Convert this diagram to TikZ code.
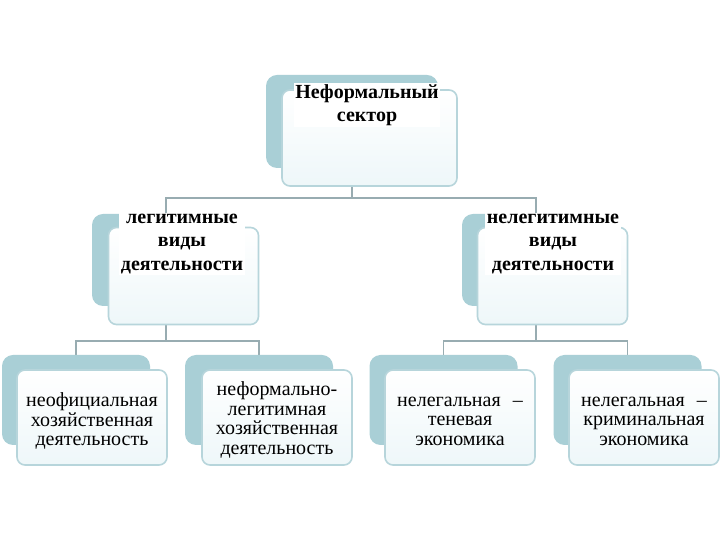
\documentclass[tikz,border=0pt]{standalone}
\usepackage{fontspec}
\setmainfont{Liberation Serif}
\usetikzlibrary{backgrounds}
\definecolor{backc}{RGB}{169,207,214}
\definecolor{framec}{RGB}{183,213,219}
\definecolor{innerc}{RGB}{238,247,249}
\definecolor{connc}{RGB}{152,172,177}
\begin{document}
\begin{tikzpicture}[x=1pt,y=1pt,
 backbox/.style={fill=backc, rounded corners=11pt, minimum width=148pt, minimum height=90pt, inner sep=0pt},
 frontbox/.style={draw=framec, line width=1.6pt, top color=white, bottom color=innerc, rounded corners=8pt, minimum width=150pt, minimum height=96pt, inner sep=0pt},
 conn/.style={draw=connc, line width=1.8pt},
 headtxt/.style={font=\fontsize{20}{23.5}\selectfont\bfseries, align=center, fill=white, inner sep=1.5pt},
 leaftxt/.style={font=\fontsize{20}{19.5}\selectfont, align=center, inner sep=1pt}
]
\useasboundingbox (0,0) rectangle (720,540);
% top
\node[backbox, minimum width=172pt, minimum height=93pt] (topb) at (352,418.5) {};
\node[frontbox, minimum width=175pt, minimum height=96pt] (topf) at (369.5,402) {};
% level 2
\node[backbox, minimum height=92pt] (l2lb) at (166,280) {};
\node[frontbox, minimum height=97pt] (l2lf) at (183.5,264) {};
\node[backbox, minimum height=92pt] (l2rb) at (536,280) {};
\node[frontbox, minimum height=97pt] (l2rf) at (552.5,264) {};
% level 3
\node[backbox] (l3ab) at (76,140) {};
\node[frontbox, minimum height=95pt] (l3af) at (92,122.5) {};
\node[backbox] (l3bb) at (259,140) {};
\node[frontbox, minimum height=95pt] (l3bf) at (277,122.5) {};
\node[backbox] (l3cb) at (443.5,140) {};
\node[frontbox, minimum height=95pt] (l3cf) at (460,122.5) {};
\node[backbox] (l3db) at (627.5,140) {};
\node[frontbox, minimum height=95pt] (l3df) at (644,122.5) {};
% texts
\node[headtxt] (toptxt) at (367,435) {Неформальный\\сектор};
\node[headtxt] (l2lt) at (182,296) {легитимные\\виды\\деятельности};
\node[headtxt] (l2rt) at (553,296) {нелегитимные\\виды\\деятельности};
\node[leaftxt] (l3at) at (92,119) {неофициальная\\хозяйственная\\деятельность};
\node[leaftxt] (l3bt) at (277,120) {неформально-\\легитимная\\хозяйственная\\деятельность};
\node[leaftxt] (l3ct) at (460,119) {нелегальная\hspace{0.6em}–\\теневая\\экономика};
\node[leaftxt] (l3dt) at (644,119) {нелегальная\hspace{0.6em}–\\криминальная\\экономика};
% connectors
\begin{pgfonlayer}{background}
\fill[white] (0,0) rectangle (720,540);
\coordinate (j1) at (352,342);
\coordinate (j2) at (166,199);
\coordinate (j3) at (536,199);
\draw[conn] (topb.center) -- (topb.center |- j1) -| (l2lb.north);
\draw[conn] (topb.center |- j1) -| (l2rb.north);
\draw[conn] (l2lb.center) -- (l2lb.center |- j2) -| (l3ab.north);
\draw[conn] (l2lb.center |- j2) -| (l3bb.north);
\draw[conn] (l2rb.center) -- (l2rb.center |- j3) -| (l3cb.north);
\draw[conn] (l2rb.center |- j3) -| (l3db.north);
\end{pgfonlayer}
\end{tikzpicture}
\end{document}
